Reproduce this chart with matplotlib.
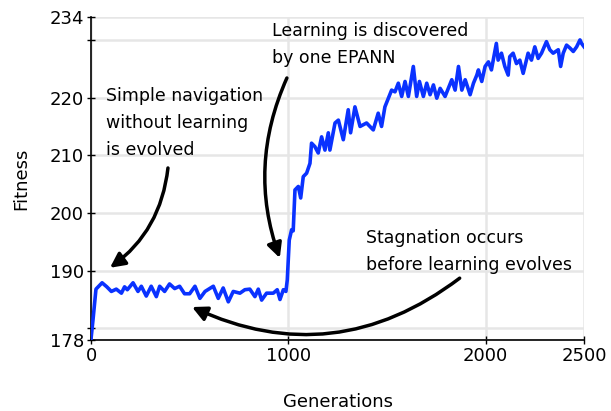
import matplotlib.pyplot as plt

# Datos
generaciones = [0, 10, 25, 56, 80, 103, 128, 154, 170, 184, 213, 238, 255, 280, 305,
                331, 348, 373, 398, 424, 449, 474, 500, 527, 552, 578, 620, 645, 670,
                696, 721, 755, 780, 805, 831, 848, 865, 890, 924, 944, 958, 975, 988,
                995, 1005, 1017, 1025, 1034, 1051, 1063, 1076, 1093, 1110, 1118, 1135,
                1152, 1169, 1186, 1203, 1211, 1237, 1254, 1279, 1304, 1316, 1338, 1364,
                1397, 1431, 1456, 1473, 1490, 1524, 1541, 1558, 1575, 1592, 1609, 1634,
                1651, 1665, 1685, 1702, 1719, 1736, 1753, 1770, 1795, 1829, 1846, 1863,
                1880, 1897, 1922, 1939, 1956, 1964, 1981, 1998, 2015, 2030, 2055, 2064,
                2081, 2098, 2115, 2123, 2140, 2157, 2174, 2191, 2216, 2233, 2250, 2267,
                2284, 2309, 2326, 2343, 2369, 2381, 2394, 2411, 2428, 2445, 2462, 2479,
                2487, 2500]
fitness = [178.2, 181.5, 186.8, 187.9, 187.2, 186.4, 186.8, 186.1, 187.2, 186.7, 187.9,
           186.4, 187.3, 185.6, 187.3, 185.5, 187.3, 186.4, 187.7, 186.9, 187.3, 186.0,
           186.0, 187.3, 185.2, 186.4, 187.3, 185.2, 187.0, 184.6, 186.4, 186.1, 186.7,
           186.8, 185.5, 186.8, 184.9, 186.1, 186.1, 186.7, 185.0, 186.7, 186.4, 188.4,
           195.3, 197.1, 196.9, 204.0, 204.6, 202.6, 206.3, 206.9, 208.6, 212.1, 211.5,
           210.4, 213.2, 210.9, 213.9, 210.9, 215.6, 216.1, 212.7, 217.9, 213.9, 218.4,
           215.0, 215.6, 214.4, 217.3, 215.0, 218.4, 221.3, 221.0, 222.5, 220.2, 222.8,
           220.2, 225.4, 220.2, 222.8, 220.2, 222.5, 220.5, 222.2, 219.9, 221.6, 220.2,
           223.1, 221.3, 225.4, 221.3, 223.1, 220.5, 222.5, 223.9, 224.8, 222.8, 225.4,
           226.2, 224.8, 229.4, 226.5, 227.7, 225.4, 223.9, 227.1, 227.7, 225.9, 226.5,
           224.2, 227.7, 226.5, 228.8, 226.8, 227.7, 229.7, 228.3, 227.7, 228.3, 225.4,
           227.7, 229.1, 228.6, 228.0, 228.8, 230.0, 229.4, 228.8]

yticks = [178, 180, 190, 200, 210, 220, 230, 234]
ytick_labels = ['178', '', '190', '200', '210', '220', '', '234']
xticks = [0, 1000, 2000, 2500]

fig = plt.figure(figsize=(6.11, 4.11), dpi=100)
ax = fig.add_axes([0.149, 0.173, 0.807, 0.786])

ax.plot(generaciones, fitness, color='#0a32ff', lw=2.6, zorder=3)

ax.set_xlim(0, 2500)
ax.set_ylim(178, 234)
ax.set_xticks(xticks)
ax.set_yticks(yticks)
ax.set_yticklabels(ytick_labels)
ax.tick_params(direction='inout', length=6, width=1, labelsize=13, pad=2)
ax.grid(True, color='#e6e6e6', lw=1.8, zorder=0)
ax.set_axisbelow(True)
for lado in ['top', 'right']:
    ax.spines[lado].set_visible(False)
for lado in ['left', 'bottom']:
    ax.spines[lado].set_linewidth(1.2)

ax.set_xlabel('Generations', fontsize=13, labelpad=20)
ax.set_ylabel('Fitness', fontsize=13, labelpad=14)

# Textos y flechas
ax.text(76, 221.8, 'Simple navigation\nwithout learning\nis evolved', fontsize=12.5,
        ha='left', va='top', linespacing=1.65)
ax.text(917, 233.1, 'Learning is discovered\nby one EPANN', fontsize=12.5,
        ha='left', va='top', linespacing=1.65)
ax.text(1393, 197.2, 'Stagnation occurs\nbefore learning evolves', fontsize=12.5,
        ha='left', va='top', linespacing=1.65)

flecha = dict(arrowstyle='-|>', color='black', lw=2.5, mutation_scale=22,
              shrinkA=0, shrinkB=0)
ax.annotate('', xy=(96, 190.5), xytext=(390, 207.8),
            arrowprops=dict(flecha, connectionstyle='arc3,rad=-0.22'))
ax.annotate('', xy=(957, 192.2), xytext=(993, 223.4),
            arrowprops=dict(flecha, connectionstyle='arc3,rad=0.2'))
ax.annotate('', xy=(512, 183.7), xytext=(1869, 188.7),
            arrowprops=dict(flecha, connectionstyle='arc3,rad=-0.3'))

plt.savefig('out.png', dpi=100)
